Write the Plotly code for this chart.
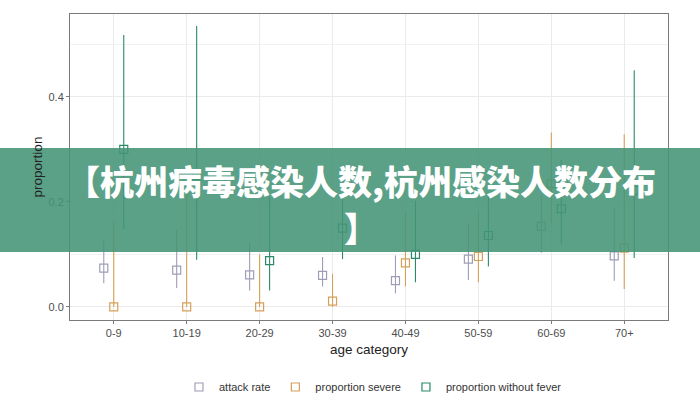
import plotly.graph_objects as go

categories = ["0-9", "10-19", "20-29", "30-39", "40-49", "50-59", "60-69", "70+"]

attack_rate = [0.074, 0.070, 0.061, 0.060, 0.050, 0.091, 0.154, 0.097]
attack_lo = [0.045, 0.036, 0.031, 0.039, 0.026, 0.051, 0.103, 0.050]
attack_hi = [0.128, 0.147, 0.122, 0.095, 0.098, 0.158, 0.213, 0.188]

severe = [0.0, 0.0, 0.0, 0.011, 0.084, 0.096, 0.235, 0.112]
severe_lo = [0.0, 0.0, 0.0, 0.0, 0.039, 0.047, 0.159, 0.034]
severe_hi = [0.161, 0.230, 0.100, 0.063, 0.180, 0.182, 0.332, 0.329]

no_fever = [0.300, 0.250, 0.088, 0.150, 0.100, 0.136, 0.187, 0.222]
no_fever_lo = [0.148, 0.090, 0.031, 0.091, 0.047, 0.077, 0.119, 0.093]
no_fever_hi = [0.518, 0.535, 0.210, 0.210, 0.202, 0.212, 0.280, 0.451]

y_ticks = [0.0, 0.2, 0.4]
banner_line1 = "【杭州病毒感染人数,杭州感染人数分布"
banner_line2 = "】"

series = [
    ("attack rate", attack_rate, attack_lo, attack_hi, "rgb(158,158,182)", -0.137),
    ("proportion severe", severe, severe_lo, severe_hi, "rgb(214,160,88)", 0.0),
    ("proportion without fever", no_fever, no_fever_lo, no_fever_hi, "rgb(42,138,104)", 0.137),
]

fig = go.Figure()
for name, vals, lo, hi, col, off in series:
    fig.add_trace(go.Scatter(
        x=[i + off for i in range(len(categories))],
        y=vals,
        mode="markers",
        name=name,
        marker=dict(symbol="square-open", size=8, color=col, line=dict(width=1.2, color=col)),
        error_y=dict(type="data", symmetric=False,
                     array=[h - v for h, v in zip(hi, vals)],
                     arrayminus=[v - l for v, l in zip(vals, lo)],
                     thickness=1.1, width=0, color=col),
    ))

axis_font = dict(family="Liberation Sans, Arial, sans-serif", size=11, color="#4d4d4d")
fig.update_xaxes(
    range=[-0.6, 7.6], tickvals=list(range(len(categories))), ticktext=categories,
    showgrid=True, gridcolor="#ebebeb", gridwidth=1, zeroline=False,
    showline=True, linecolor="#7a7a7a", linewidth=1, mirror=True,
    ticks="outside", ticklen=3, tickcolor="#7a7a7a", tickfont=axis_font,
    automargin=False,
    title=dict(text="age category", standoff=6,
               font=dict(family="Liberation Sans, Arial, sans-serif", size=13.5, color="#222")),
)
fig.update_yaxes(
    range=[-0.025, 0.558], tickvals=y_ticks, ticktext=[f"{v:.1f}" for v in y_ticks],
    showgrid=True, gridcolor="#ebebeb", gridwidth=1, zeroline=False,
    minor=dict(tickvals=[0.1, 0.3, 0.5], showgrid=True, gridcolor="#f2f2f2", gridwidth=0.6, ticks=""),
    showline=True, linecolor="#7a7a7a", linewidth=1, mirror=True,
    ticks="outside", ticklen=3, tickcolor="#7a7a7a", tickfont=axis_font,
    automargin=False,
    title=dict(text="proportion", standoff=2,
               font=dict(family="Liberation Sans, Arial, sans-serif", size=13.5, color="#222")),
)

fig.add_shape(type="rect", xref="paper", yref="paper",
              x0=-70 / 598, x1=630 / 598, y0=(320 - 252) / 306, y1=(320 - 148) / 306,
              fillcolor="rgba(68,148,118,0.88)", line=dict(width=0), layer="above")
banner_font = dict(family="Noto Sans CJK SC", size=34, color="white", weight=900)
fig.add_annotation(xref="paper", yref="paper", x=(361 - 70) / 598, y=(320 - 180) / 306,
                   text=banner_line1, showarrow=False, xanchor="center", yanchor="middle",
                   font=banner_font)
fig.add_annotation(xref="paper", yref="paper", x=(361 - 70) / 598, y=(320 - 227) / 306,
                   text=banner_line2, showarrow=False, xanchor="center", yanchor="middle",
                   font=banner_font)

fig.update_layout(
    width=700, height=400,
    margin=dict(l=70, r=32, t=14, b=80, autoexpand=False),
    paper_bgcolor="white", plot_bgcolor="white",
    showlegend=True,
    legend=dict(orientation="h", x=0.5 + 4 / 598, xanchor="center", y=-0.219, yanchor="middle",
                font=dict(family="Liberation Sans, Arial, sans-serif", size=11, color="#333"),
                itemwidth=30),
)

fig.write_html("out.html", config={"displayModeBar": False},
               post_script="document.body.style.margin='0';document.body.style.overflow='hidden';")
